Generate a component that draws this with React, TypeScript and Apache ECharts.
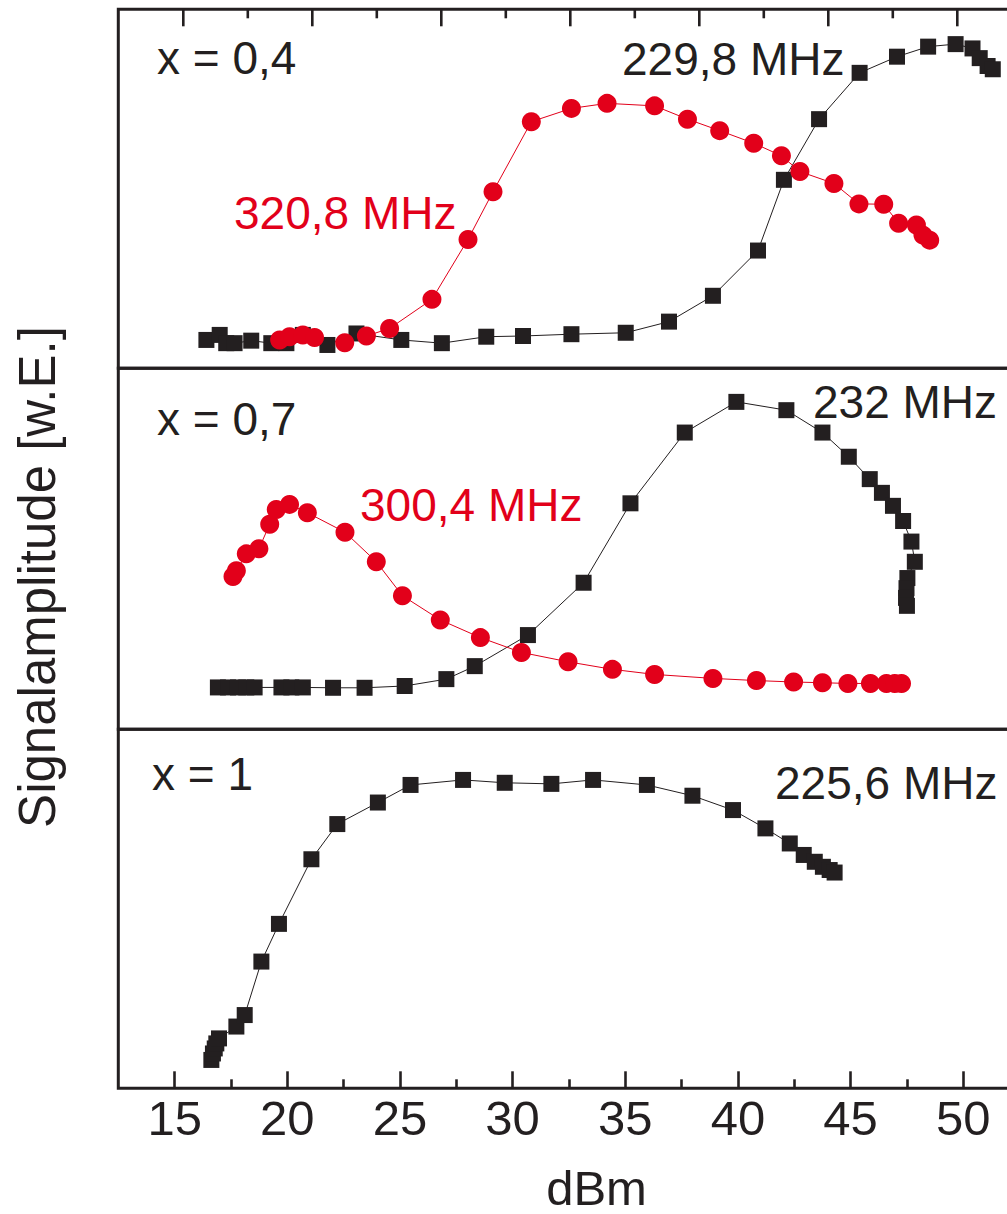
import React, { useEffect, useRef } from "react";
import * as echarts from "echarts";

// Page / frame geometry
const W = 1007;
const H = 1214;
const X_MIN = 12.5;
const X_MAX = 52.5;
const PLOT_LEFT = 118.3;
const PLOT_RIGHT_EDGE = 1019.6; // the frame runs on past the right page edge
const PANEL_TOPS = [9.3, 368.3, 729.3];
const PANEL_HEIGHTS = [359, 361, 359];
const PX_PER_DBM = (PLOT_RIGHT_EDGE - PLOT_LEFT) / (X_MAX - X_MIN);

const INK = "#231f20";
const RED = "#e2001a";
const FONT = "'Liberation Sans', Arial, Helvetica, sans-serif";

// Panel x = 0,4 : 229,8 MHz (squares)
const p1BlackX = [16.41, 17.0, 17.29, 17.66, 18.4, 19.29, 19.96, 20.69, 21.78, 23.07, 25.06, 26.86, 28.83, 30.46, 32.61, 35.02, 36.94, 38.89, 40.89, 42.04, 43.6, 45.4, 47.06, 48.44, 49.66, 50.41, 50.73, 51.08, 51.31];
const p1BlackY = [7.9, 9.3, 7.0, 7.0, 7.7, 7.0, 7.0, 9.3, 6.5, 9.7, 7.9, 7.0, 8.8, 9.0, 9.5, 9.9, 13.0, 20.2, 32.8, 52.5, 69.4, 82.3, 86.8, 89.6, 90.3, 89.1, 86.4, 84.2, 83.3];
// Panel x = 0,4 : 320,8 MHz (circles)
const p1RedX = [19.66, 20.1, 20.69, 21.21, 22.55, 23.51, 24.54, 26.42, 28.02, 29.13, 30.83, 32.61, 34.19, 36.3, 37.76, 39.19, 40.7, 41.93, 42.75, 44.26, 45.37, 46.47, 47.13, 47.92, 48.21, 48.51];
const p1RedY = [7.9, 8.8, 9.3, 8.6, 7.1, 9.0, 11.1, 19.2, 35.9, 49.2, 68.7, 72.4, 73.8, 73.1, 69.4, 66.2, 62.7, 59.2, 54.8, 51.5, 45.8, 45.7, 40.4, 39.9, 37.1, 35.7];

// Panel x = 0,7 : 232 MHz (squares)
const p2BlackX = [16.92, 17.37, 17.81, 18.18, 18.55, 19.74, 20.18, 20.69, 22.03, 23.43, 25.21, 27.06, 28.32, 30.68, 33.15, 35.23, 37.64, 39.93, 42.15, 43.75, 44.92, 45.85, 46.39, 46.88, 47.33, 47.7, 47.85, 47.52, 47.48, 47.46, 47.5];
const p2BlackY = [11.6, 11.6, 11.6, 11.6, 11.6, 11.6, 11.6, 11.6, 11.5, 11.5, 12.0, 13.9, 17.5, 26.1, 40.6, 62.6, 82.2, 90.7, 88.4, 82.2, 75.5, 69.3, 65.5, 61.9, 57.7, 52.0, 46.4, 41.9, 39.1, 36.4, 34.2];
// Panel x = 0,7 : 300,4 MHz (circles)
const p2RedX = [17.59, 17.74, 18.18, 18.74, 19.22, 19.51, 20.1, 20.89, 22.56, 23.95, 25.11, 26.79, 28.57, 30.39, 32.46, 34.43, 36.3, 38.89, 40.82, 42.47, 43.75, 44.88, 45.88, 46.59, 46.96, 47.26];
const p2RedY = [42.3, 43.9, 48.6, 50.0, 56.8, 60.9, 62.3, 60.0, 54.6, 46.4, 37.0, 30.3, 25.4, 21.3, 18.7, 16.6, 15.2, 14.1, 13.5, 13.1, 12.9, 12.7, 12.7, 12.7, 12.7, 12.7];

// Panel x = 1 : 225,6 MHz (squares)
const p3BlackX = [16.63, 16.7, 16.78, 16.85, 16.97, 17.74, 18.11, 18.85, 19.63, 21.07, 22.22, 24.02, 25.47, 27.8, 29.65, 31.72, 33.57, 35.96, 37.98, 39.78, 41.22, 42.3, 42.92, 43.41, 43.77, 44.07, 44.29];
const p3BlackY = [7.9, 9.7, 11.1, 12.5, 13.9, 17.2, 20.4, 35.3, 45.8, 63.8, 73.6, 79.6, 84.5, 85.9, 85.1, 84.8, 85.9, 84.5, 81.5, 77.5, 72.4, 68.2, 65.0, 63.1, 61.7, 60.8, 60.1];

// Axis ticks and labels
const bottomTicks = { min: 15, max: 50, step: 5 };
// Unlabelled secondary scale on the top edge: tick index 0..12, even = long
const topTickIndex = [0, 1, 2, 3, 4, 5, 6, 7, 8, 9, 10, 11, 12];
const TOP_TICK_ORIGIN_DBM = 15.385;
const TOP_TICK_STEP_DBM = 2.8625;

// Panel annotations
const panelLabels = [
  { text: "x = 0,4", x: 157, y: 58, color: INK },
  { text: "229,8 MHz", x: 622, y: 58.5, color: INK },
  { text: "320,8 MHz", x: 234, y: 213, color: RED },
  { text: "x = 0,7", x: 157, y: 419, color: INK },
  { text: "300,4 MHz", x: 360, y: 505, color: RED },
  { text: "232 MHz", x: 813, y: 401.5, color: INK },
  { text: "x = 1", x: 152, y: 773.5, color: INK },
  { text: "225,6 MHz", x: 775, y: 783, color: INK },
];

const yTitle = "Signalamplitude [w.E.]";
const xTitle = "dBm";

const zip = (xs: number[], ys: number[]) => xs.map((x, i) => [x, ys[i]]);

export default function App() {
  const ref = useRef<HTMLDivElement>(null);

  useEffect(() => {
    document.body.style.margin = "0";
    document.body.style.overflow = "hidden";
    if (!ref.current) return;
    const chart = echarts.init(ref.current, undefined, { renderer: "svg" });

    const dataGrids = PANEL_TOPS.map((top, i) => ({
      left: PLOT_LEFT,
      right: W - PLOT_RIGHT_EDGE,
      top,
      height: PANEL_HEIGHTS[i],
      show: true,
      borderColor: INK,
      borderWidth: 3,
      backgroundColor: "transparent",
      containLabel: false,
      outerBoundsMode: "none",
    }));

    const bottomTickLeft = PLOT_LEFT + (bottomTicks.min - X_MIN) * PX_PER_DBM;
    const bottomTickRight = PLOT_LEFT + (bottomTicks.max - X_MIN) * PX_PER_DBM;
    const fullTop = PANEL_TOPS[0];
    const fullHeight = PANEL_TOPS[2] + PANEL_HEIGHTS[2] - PANEL_TOPS[0];

    const grids = [
      ...dataGrids,
      // scale for the labelled bottom ticks
      {
        left: bottomTickLeft,
        right: W - bottomTickRight,
        top: fullTop,
        height: fullHeight,
        show: false,
        containLabel: false,
        outerBoundsMode: "none",
      },
    ];

    const hiddenX = (gridIndex: number) => ({
      type: "value",
      gridIndex,
      min: X_MIN,
      max: X_MAX,
      axisLine: { show: false, onZero: false },
      axisTick: { show: false },
      axisLabel: { show: false },
      splitLine: { show: false },
    });
    const hiddenY = (gridIndex: number) => ({
      type: "value",
      gridIndex,
      min: 0,
      max: 100,
      axisLine: { show: false, onZero: false },
      axisTick: { show: false },
      axisLabel: { show: false },
      splitLine: { show: false },
    });

    const tickLine = { color: INK, width: 2.6 };

    const xAxes: any[] = [
      hiddenX(0),
      hiddenX(1),
      hiddenX(2),
      {
        type: "value",
        gridIndex: 3,
        position: "bottom",
        min: bottomTicks.min,
        max: bottomTicks.max,
        interval: bottomTicks.step,
        axisLine: { show: false, onZero: false },
        axisTick: { show: true, inside: true, length: 17, lineStyle: tickLine },
        minorTick: { show: true, splitNumber: 2, length: 9, lineStyle: tickLine },
        splitLine: { show: false },
        minorSplitLine: { show: false },
        axisLabel: { show: true, color: INK, fontSize: 49, fontFamily: FONT, margin: 5 },
      },
    ];
    const yAxes = [0, 1, 2, 3].map(hiddenY);

    const lineSeries = (idx: number, data: number[][], color: string, symbol: string, size: number) => ({
      type: "line",
      xAxisIndex: idx,
      yAxisIndex: idx,
      data,
      symbol,
      symbolSize: size,
      showAllSymbol: true,
      lineStyle: { color, width: 1 },
      itemStyle: { color, borderWidth: 0 },
      emphasis: { disabled: true },
      clip: false,
    });

    const series = [
      lineSeries(0, zip(p1BlackX, p1BlackY), INK, "rect", 16),
      lineSeries(0, zip(p1RedX, p1RedY), RED, "circle", 19),
      lineSeries(1, zip(p2BlackX, p2BlackY), INK, "rect", 16),
      lineSeries(1, zip(p2RedX, p2RedY), RED, "circle", 19),
      lineSeries(2, zip(p3BlackX, p3BlackY), INK, "rect", 16),
    ];

    const graphics: any[] = panelLabels.map((l) => ({
      type: "text",
      x: l.x,
      y: l.y,
      style: {
        text: l.text,
        fill: l.color,
        font: `46px ${FONT}`,
        textAlign: "left",
        textVerticalAlign: "middle",
      },
    }));
    // axis titles
    graphics.push({
      type: "text",
      x: 37,
      y: 577,
      rotation: Math.PI / 2,
      style: {
        text: yTitle,
        fill: INK,
        font: `51px ${FONT}`,
        textAlign: "center",
        textVerticalAlign: "middle",
      },
    });
    graphics.push({
      type: "text",
      x: 596.5,
      y: 1188,
      style: {
        text: xTitle,
        fill: INK,
        font: `49px ${FONT}`,
        textAlign: "center",
        textVerticalAlign: "middle",
      },
    });

    chart.setOption({
      animation: false,
      backgroundColor: "#ffffff",
      grid: grids,
      xAxis: xAxes,
      yAxis: yAxes,
      series,
      graphic: graphics,
    });

    // ticks of the unlabelled top scale, hanging down from the frame's top edge,
    // placed through the top panel's own axes
    const topTickLines = topTickIndex.map((k) => {
      const dbm = TOP_TICK_ORIGIN_DBM + k * TOP_TICK_STEP_DBM;
      let p: any = null;
      try {
        p = chart.convertToPixel({ gridIndex: 0 } as any, [dbm, 100]);
      } catch (e) {
        p = null;
      }
      if (!p || !isFinite(p[0]) || !isFinite(p[1])) {
        p = [PLOT_LEFT + (dbm - X_MIN) * PX_PER_DBM, PANEL_TOPS[0]];
      }
      const len = k % 2 === 0 ? 17 : 9;
      return {
        type: "line",
        z: 100,
        silent: true,
        shape: { x1: p[0], y1: p[1], x2: p[0], y2: p[1] + len },
        style: { stroke: INK, lineWidth: 2.6 },
      };
    });

    chart.setOption({ graphic: [...graphics, ...topTickLines] });

    return () => chart.dispose();
  }, []);

  return <div ref={ref} style={{ width: W, height: H }} />;
}
